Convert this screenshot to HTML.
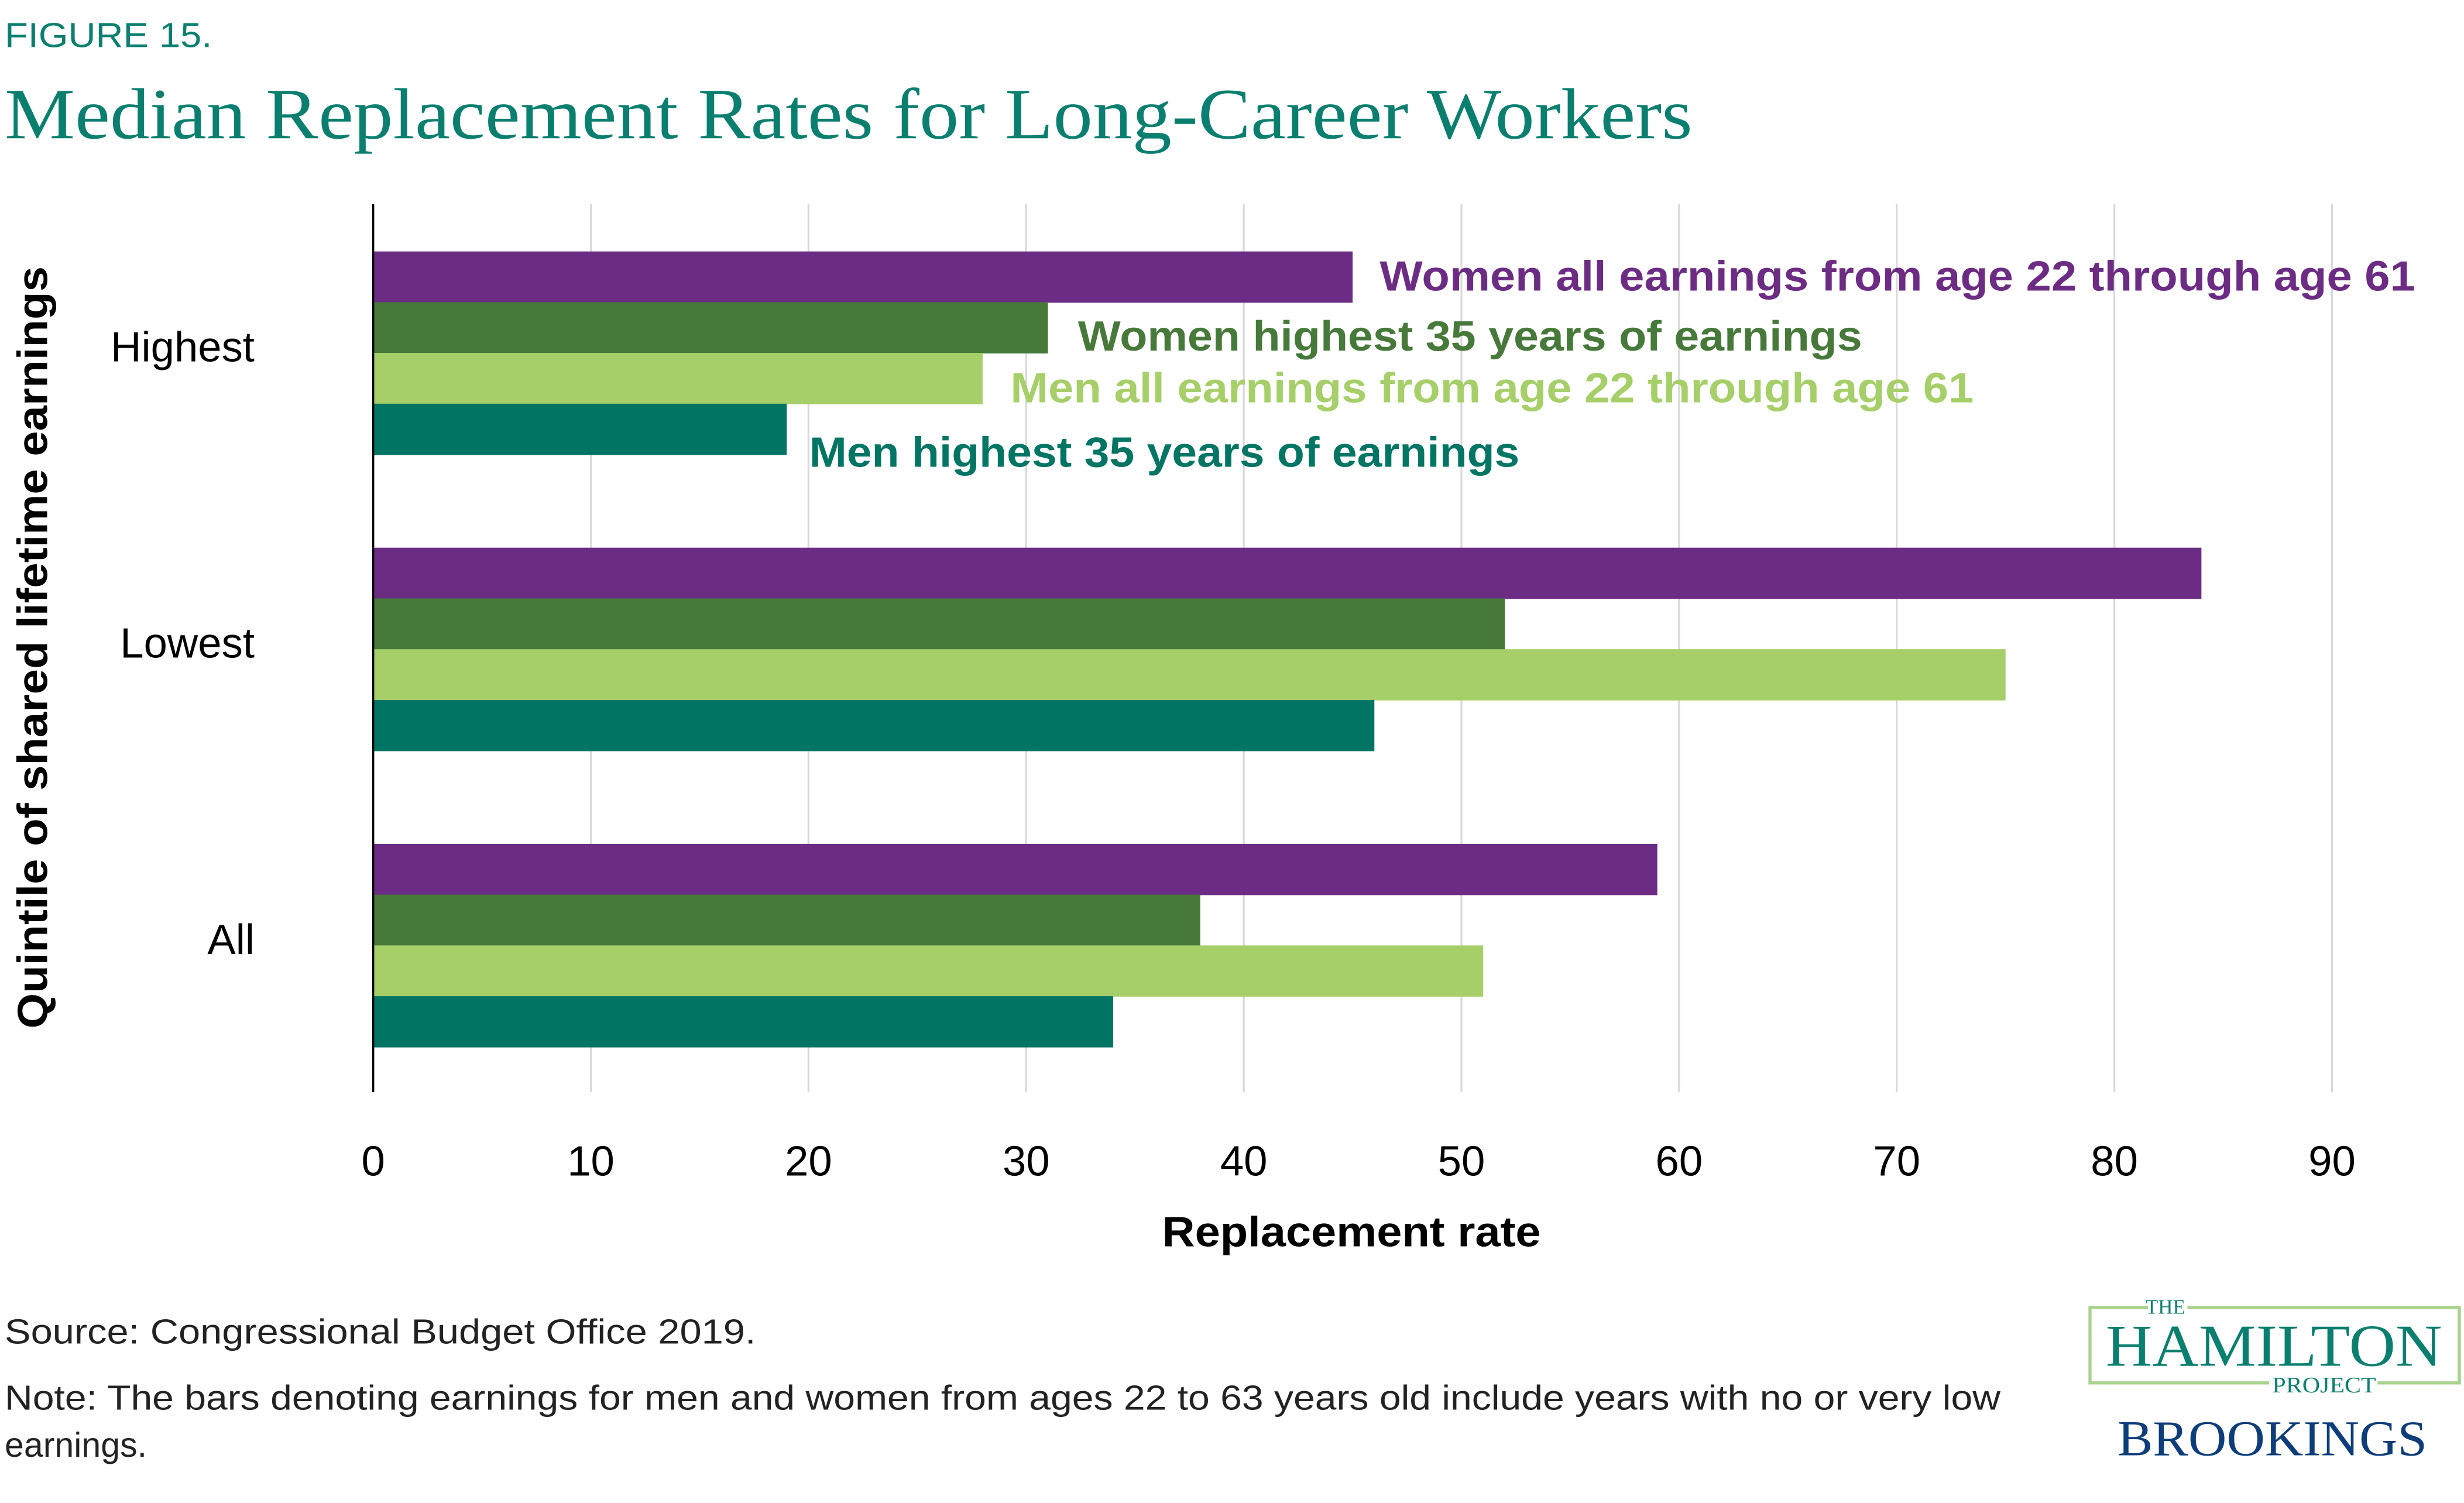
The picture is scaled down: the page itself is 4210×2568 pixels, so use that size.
<!DOCTYPE html>
<html><head><meta charset="utf-8"><style>
html,body{margin:0;padding:0;background:#fff;}
svg{display:block;}
text{font-family:"Liberation Sans",sans-serif;}
.serif{font-family:"Liberation Serif",serif;}
</style></head><body>
<svg id="chart" width="4210" height="2568" viewBox="0 0 1568 956.4" preserveAspectRatio="none" xmlns="http://www.w3.org/2000/svg">
<text x="3" y="30" font-size="22" fill="#0a7f6f" textLength="132" lengthAdjust="spacingAndGlyphs">FIGURE 15.</text>
<text class="serif" x="3" y="88" font-size="46" fill="#0a7f6f" textLength="1074" lengthAdjust="spacingAndGlyphs">Median Replacement Rates for Long-Career Workers</text>
<g id="grid"></g>
<g id="bars"></g>
<line x1="237.5" y1="130" x2="237.5" y2="695" stroke="#000" stroke-width="1.3"/>
<g id="ticks"></g>
<g id="cats"></g>
<text x="860" y="793" font-size="27" font-weight="bold" text-anchor="middle" textLength="241" lengthAdjust="spacingAndGlyphs">Replacement rate</text>
<text transform="translate(30,412) rotate(-90)" font-size="27" font-weight="bold" text-anchor="middle" textLength="485" lengthAdjust="spacingAndGlyphs">Quintile of shared lifetime earnings</text>
<text x="878" y="185" font-size="27" font-weight="bold" fill="#6c2c83" textLength="659" lengthAdjust="spacingAndGlyphs">Women all earnings from age 22 through age 61</text>
<text x="686" y="223" font-size="27" font-weight="bold" fill="#46793a" textLength="499" lengthAdjust="spacingAndGlyphs">Women highest 35 years of earnings</text>
<text x="643" y="256" font-size="27" font-weight="bold" fill="#a6cf69" textLength="613" lengthAdjust="spacingAndGlyphs">Men all earnings from age 22 through age 61</text>
<text x="515" y="297" font-size="27" font-weight="bold" fill="#007563" textLength="452" lengthAdjust="spacingAndGlyphs">Men highest 35 years of earnings</text>
<text x="3" y="855" font-size="22" fill="#222" textLength="478" lengthAdjust="spacingAndGlyphs">Source:  Congressional Budget Office 2019.</text>
<text x="3" y="897" font-size="22" fill="#222" textLength="1270" lengthAdjust="spacingAndGlyphs">Note: The bars denoting earnings for men and women from ages 22 to 63 years old include years with no or very low</text>
<text x="3" y="927" font-size="22" fill="#222">earnings.</text>
<g>
<path d="M1367 832 H1330 V880 H1444 M1513 880 H1565 V832 H1392" fill="none" stroke="#a8d38e" stroke-width="2"/>
<text class="serif" x="1378" y="836" font-size="13" fill="#0a7f6f" text-anchor="middle">THE</text>
<text class="serif" x="1447" y="869" font-size="38" fill="#0a7f6f" text-anchor="middle" textLength="214" lengthAdjust="spacingAndGlyphs">HAMILTON</text>
<text class="serif" x="1479" y="886" font-size="14" fill="#0a7f6f" text-anchor="middle" textLength="66" lengthAdjust="spacingAndGlyphs">PROJECT</text>
<text class="serif" x="1446" y="926" font-size="32" fill="#0d3d7a" text-anchor="middle" textLength="197" lengthAdjust="spacingAndGlyphs">BROOKINGS</text>
</g>
</svg>
<script>
const categories = ["Highest", "Lowest", "All"];
const womenAll = [45, 84, 59];
const women35 = [31, 52, 38];
const menAll = [28, 75, 51];
const men35 = [19, 46, 34];
const tickLabels = [0, 10, 20, 30, 40, 50, 60, 70, 80, 90];

const NS = "http://www.w3.org/2000/svg";
const x0 = 237.5, unit = 13.85;
const xs = v => x0 + v * unit;
const groupTop = i => 160 + i * 188.5;
const barH = 32.3;
const series = [
  {vals: womenAll, color: "#6c2c83", name: "women-all"},
  {vals: women35, color: "#46793a", name: "women-35"},
  {vals: menAll, color: "#a6cf69", name: "men-all"},
  {vals: men35, color: "#007563", name: "men-35"}
];
const grid = document.getElementById("grid");
tickLabels.forEach(t => {
  if (t === 0) return;
  const l = document.createElementNS(NS, "line");
  l.setAttribute("x1", xs(t)); l.setAttribute("x2", xs(t));
  l.setAttribute("y1", 130); l.setAttribute("y2", 695);
  l.setAttribute("stroke", "#d9d9d9"); l.setAttribute("stroke-width", "1.2");
  
  
  grid.appendChild(l);
});
const tk = document.getElementById("ticks");
tickLabels.forEach(t => {
  const tx = document.createElementNS(NS, "text");
  tx.setAttribute("x", xs(t)); tx.setAttribute("y", 748);
  tx.setAttribute("font-size", "27"); tx.setAttribute("text-anchor", "middle");
  tx.textContent = t;
  
  
  tk.appendChild(tx);
});
const bars = document.getElementById("bars");
categories.forEach((c, i) => {
  series.forEach((s, j) => {
    const r = document.createElementNS(NS, "rect");
    r.setAttribute("x", x0); r.setAttribute("y", groupTop(i) + j * barH);
    r.setAttribute("width", xs(s.vals[i]) - x0); r.setAttribute("height", barH + 0.3);
    r.setAttribute("fill", s.color);
    
    
    bars.appendChild(r);
  });
});
const cats = document.getElementById("cats");
categories.forEach((c, i) => {
  const tx = document.createElementNS(NS, "text");
  tx.setAttribute("x", 162); tx.setAttribute("y", groupTop(i) + 70);
  tx.setAttribute("font-size", "27"); tx.setAttribute("text-anchor", "end");
  tx.textContent = c;
  
  
  cats.appendChild(tx);
});
</script>
</body></html>
